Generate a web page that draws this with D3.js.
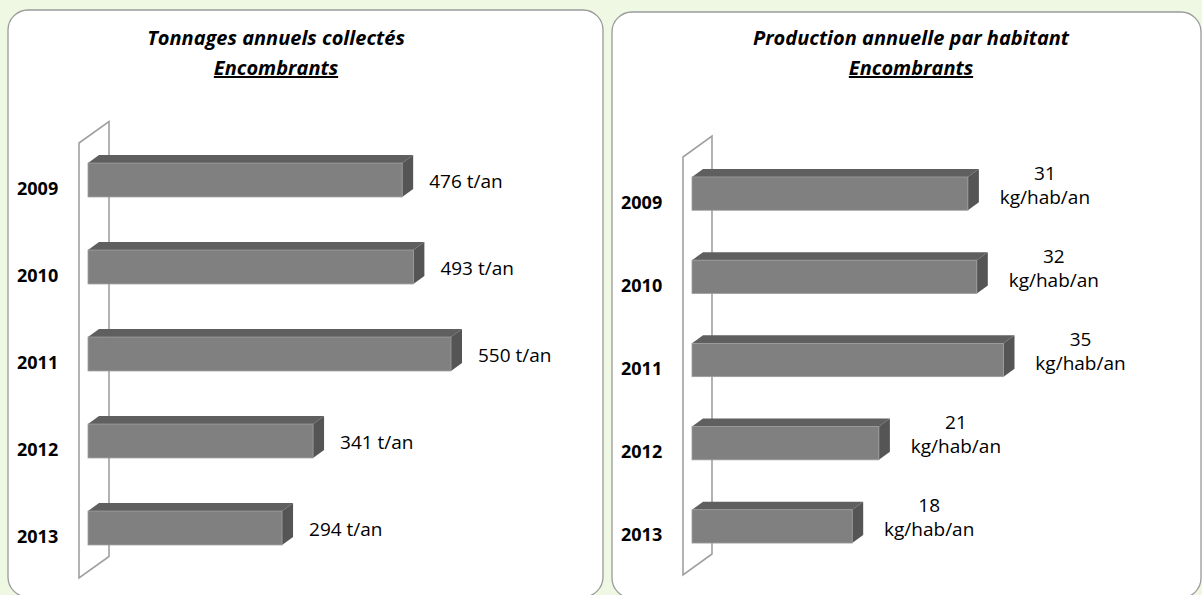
<!DOCTYPE html>
<html>
<head>
<meta charset="utf-8">
<script src="https://cdn.jsdelivr.net/npm/d3@7"></script>
<style>
  body { margin: 0; background: #eff8e3; }
  svg { display: block; font-family: "Open Sans", sans-serif; }
</style>
</head>
<body>
<svg id="chart" width="1202" height="595"></svg>
<script>
// DATA
var years = ["2009", "2010", "2011", "2012", "2013"];
var tonnages = [476, 493, 550, 341, 294];
var perHabitant = [31, 32, 35, 21, 18];
var tonnageUnit = "t/an";
var habitantUnit = "kg/hab/an";
var titles = [
  ["Tonnages annuels collectés", "Encombrants"],
  ["Production annuelle par habitant", "Encombrants"]
];

var svg = d3.select("#chart");

// panels (rounded frames)
var panels = [
  { x: 8, y: 10, w: 595, h: 587 },
  { x: 612, y: 12, w: 589, h: 586 }
];
svg.selectAll(".panel")
  .data(panels)
  .enter()
  .append("rect")
  .attr("class", "panel")
  .attr("x", function(d){ return d.x; })
  .attr("y", function(d){ return d.y; })
  .attr("width", function(d){ return d.w; })
  .attr("height", function(d){ return d.h; })
  .attr("rx", 20)
  .attr("fill", "white")
  .attr("stroke", "#9a9a9a")
  .attr("stroke-width", 1.3);

// layout of each 3D bar chart
var charts = [
  {
    values: tonnages, unit: tonnageUnit, title: titles[0], titleX: 276,
    domain: [0, 600], range: [88, 484],
    band: [136.5, 571.5], padding: 0.61,
    wall: { x: 79, top: 143, bottom: 578, dx: 30, dy: -21.5 },
    wrap: false
  },
  {
    values: perHabitant, unit: habitantUnit, title: titles[1], titleX: 911,
    domain: [0, 40], range: [692, 1048],
    band: [152, 568], padding: 0.6,
    wall: { x: 683, top: 157, bottom: 575, dx: 29, dy: -21 },
    wrap: true
  }
];

var depthX = 11, depthY = -8;

charts.forEach(function(c){
  var g = svg.append("g");

  var x = d3.scaleLinear().domain(c.domain).range(c.range);
  var y = d3.scaleBand().domain(years).range(c.band)
      .paddingInner(c.padding).paddingOuter(c.padding / 2);

  // title
  var t = g.append("text")
      .attr("x", c.titleX)
      .attr("text-anchor", "middle")
      .attr("font-size", 20)
      .attr("font-weight", "bold")
      .attr("font-style", "italic")
      .attr("fill", "#000");
  t.append("tspan").attr("x", c.titleX).attr("y", 45).text(c.title[0]);
  t.append("tspan").attr("x", c.titleX).attr("y", 75)
      .attr("text-decoration", "underline")
      .text(c.title[1]);

  // back wall of the category axis
  var w = c.wall;
  g.append("path")
      .attr("d", "M" + w.x + "," + w.bottom +
                 "L" + w.x + "," + w.top +
                 "L" + (w.x + w.dx) + "," + (w.top + w.dy) +
                 "L" + (w.x + w.dx) + "," + (w.bottom + w.dy) + "Z")
      .attr("fill", "none")
      .attr("stroke", "#a0a0a0")
      .attr("stroke-width", 1.6);

  var bars = g.selectAll(".bar")
      .data(years.map(function(yr, i){ return { year: yr, value: c.values[i] }; }))
      .enter()
      .append("g")
      .attr("class", "bar");

  // top face
  bars.append("path")
      .attr("d", function(d){
        var x0 = x(0), x1 = x(d.value), y0 = y(d.year);
        return "M" + x0 + "," + y0 + "L" + (x0 + depthX) + "," + (y0 + depthY) +
               "L" + (x1 + depthX) + "," + (y0 + depthY) + "L" + x1 + "," + y0 + "Z";
      })
      .attr("fill", "#5f5f5f");

  // side face
  bars.append("path")
      .attr("d", function(d){
        var x1 = x(d.value), y0 = y(d.year), y1 = y0 + y.bandwidth();
        return "M" + x1 + "," + y0 + "L" + (x1 + depthX) + "," + (y0 + depthY) +
               "L" + (x1 + depthX) + "," + (y1 + depthY) + "L" + x1 + "," + y1 + "Z";
      })
      .attr("fill", "#555555");

  // front face
  bars.append("rect")
      .attr("x", x(0))
      .attr("y", function(d){ return y(d.year); })
      .attr("width", function(d){ return x(d.value) - x(0); })
      .attr("height", y.bandwidth())
      .attr("fill", "#808080")
      .attr("stroke", "#9c9c9c")
      .attr("stroke-width", 0.8);

  // year labels
  g.selectAll(".year")
      .data(years)
      .enter()
      .append("text")
      .attr("class", "year")
      .attr("x", w.x - 62)
      .attr("y", function(d){ return y(d) + y.bandwidth() / 2 + 15; })
      .attr("font-size", 18)
      .attr("font-weight", "bold")
      .attr("fill", "#000")
      .text(function(d){ return d; });

  // value labels
  bars.each(function(d){
    var cy = y(d.year) + y.bandwidth() / 2;
    var end = x(d.value) + depthX;
    var lbl = d3.select(this).append("text")
        .attr("font-size", 19)
        .attr("fill", "#000");
    if (c.wrap) {
      lbl.attr("text-anchor", "middle");
      lbl.append("tspan").attr("x", end + 66).attr("y", cy - 14).text(d.value);
      lbl.append("tspan").attr("x", end + 66).attr("y", cy + 10).text(c.unit);
    } else {
      lbl.attr("x", end + 16).attr("y", cy + 8).text(d.value + " " + c.unit);
    }
  });
});
</script>
</body>
</html>
